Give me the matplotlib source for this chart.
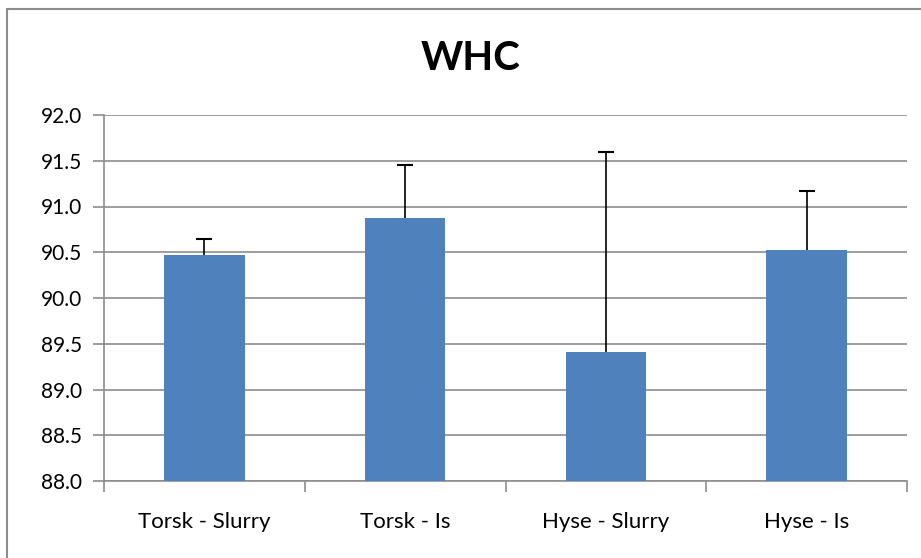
import matplotlib
matplotlib.use("Agg")
import matplotlib.pyplot as plt
from matplotlib.patches import Rectangle
import numpy as np

# --- DATA ---
categories = ["Torsk - Slurry", "Torsk - Is", "Hyse - Slurry", "Hyse - Is"]
whc_mean = [90.47, 90.87, 89.41, 90.53]
whc_err = [0.18, 0.58, 2.19, 0.64]
y_ticks = [88.0, 88.5, 89.0, 89.5, 90.0, 90.5, 91.0, 91.5, 92.0]

plt.rcParams['font.family'] = ['Lato', 'DejaVu Sans']

W, H = 921, 558
fig = plt.figure(figsize=(W / 100, H / 100), dpi=100)
fig.patch.set_facecolor('white')

# outer chart frame (cut off at right and bottom like the screenshot)
fig.patches.append(Rectangle((7 / W, -0.1), 1.2, 1.1 - 9 / H, transform=fig.transFigure,
                             fill=False, edgecolor='#8c8c8c', linewidth=1.5, clip_on=False))

ax = fig.add_axes([104 / W, 1 - 481 / H, (907 - 104) / W, (481 - 115) / H])

x = np.arange(len(categories))
ax.bar(x, [m - 88.0 for m in whc_mean], bottom=88.0, width=0.4, color='#4f81bd', zorder=3)
_, caps, _ = ax.errorbar(x, whc_mean, yerr=[np.zeros(len(whc_err)), whc_err], fmt='none',
                         ecolor='black', elinewidth=1.2, capsize=6, capthick=1.5, zorder=4)
# plus-only error bars: hide the cap sitting on the bar top
caps[0].set_visible(False)

ax.set_xlim(-0.5, len(categories) - 0.5)
ax.set_ylim(88.0, 92.0)
ax.set_yticks(y_ticks)
ax.set_yticklabels([f"{v:.1f}" for v in y_ticks], fontsize=15)
ax.yaxis.grid(True, color='#8c8c8c', linewidth=1.2, zorder=0)
ax.set_axisbelow(True)

# category labels centred, tick marks between categories
ax.set_xticks(x)
ax.set_xticklabels(categories, fontsize=16)
ax.tick_params(axis='x', length=0, pad=22)
ax.set_xticks(np.arange(-0.5, len(categories)), minor=True)
ax.tick_params(axis='x', which='minor', length=8, color='#8c8c8c', width=1.2)
ax.tick_params(axis='y', length=8, color='#8c8c8c', width=1.2, pad=8)

for side in ['top', 'right']:
    ax.spines[side].set_visible(False)
for side in ['left', 'bottom']:
    ax.spines[side].set_color('#8c8c8c')
    ax.spines[side].set_linewidth(1.2)

fig.text(471 / W, 1 - 58 / H, "WHC", ha='center', va='center', fontsize=29, fontweight='bold')

fig.savefig("out.png", dpi=100)
